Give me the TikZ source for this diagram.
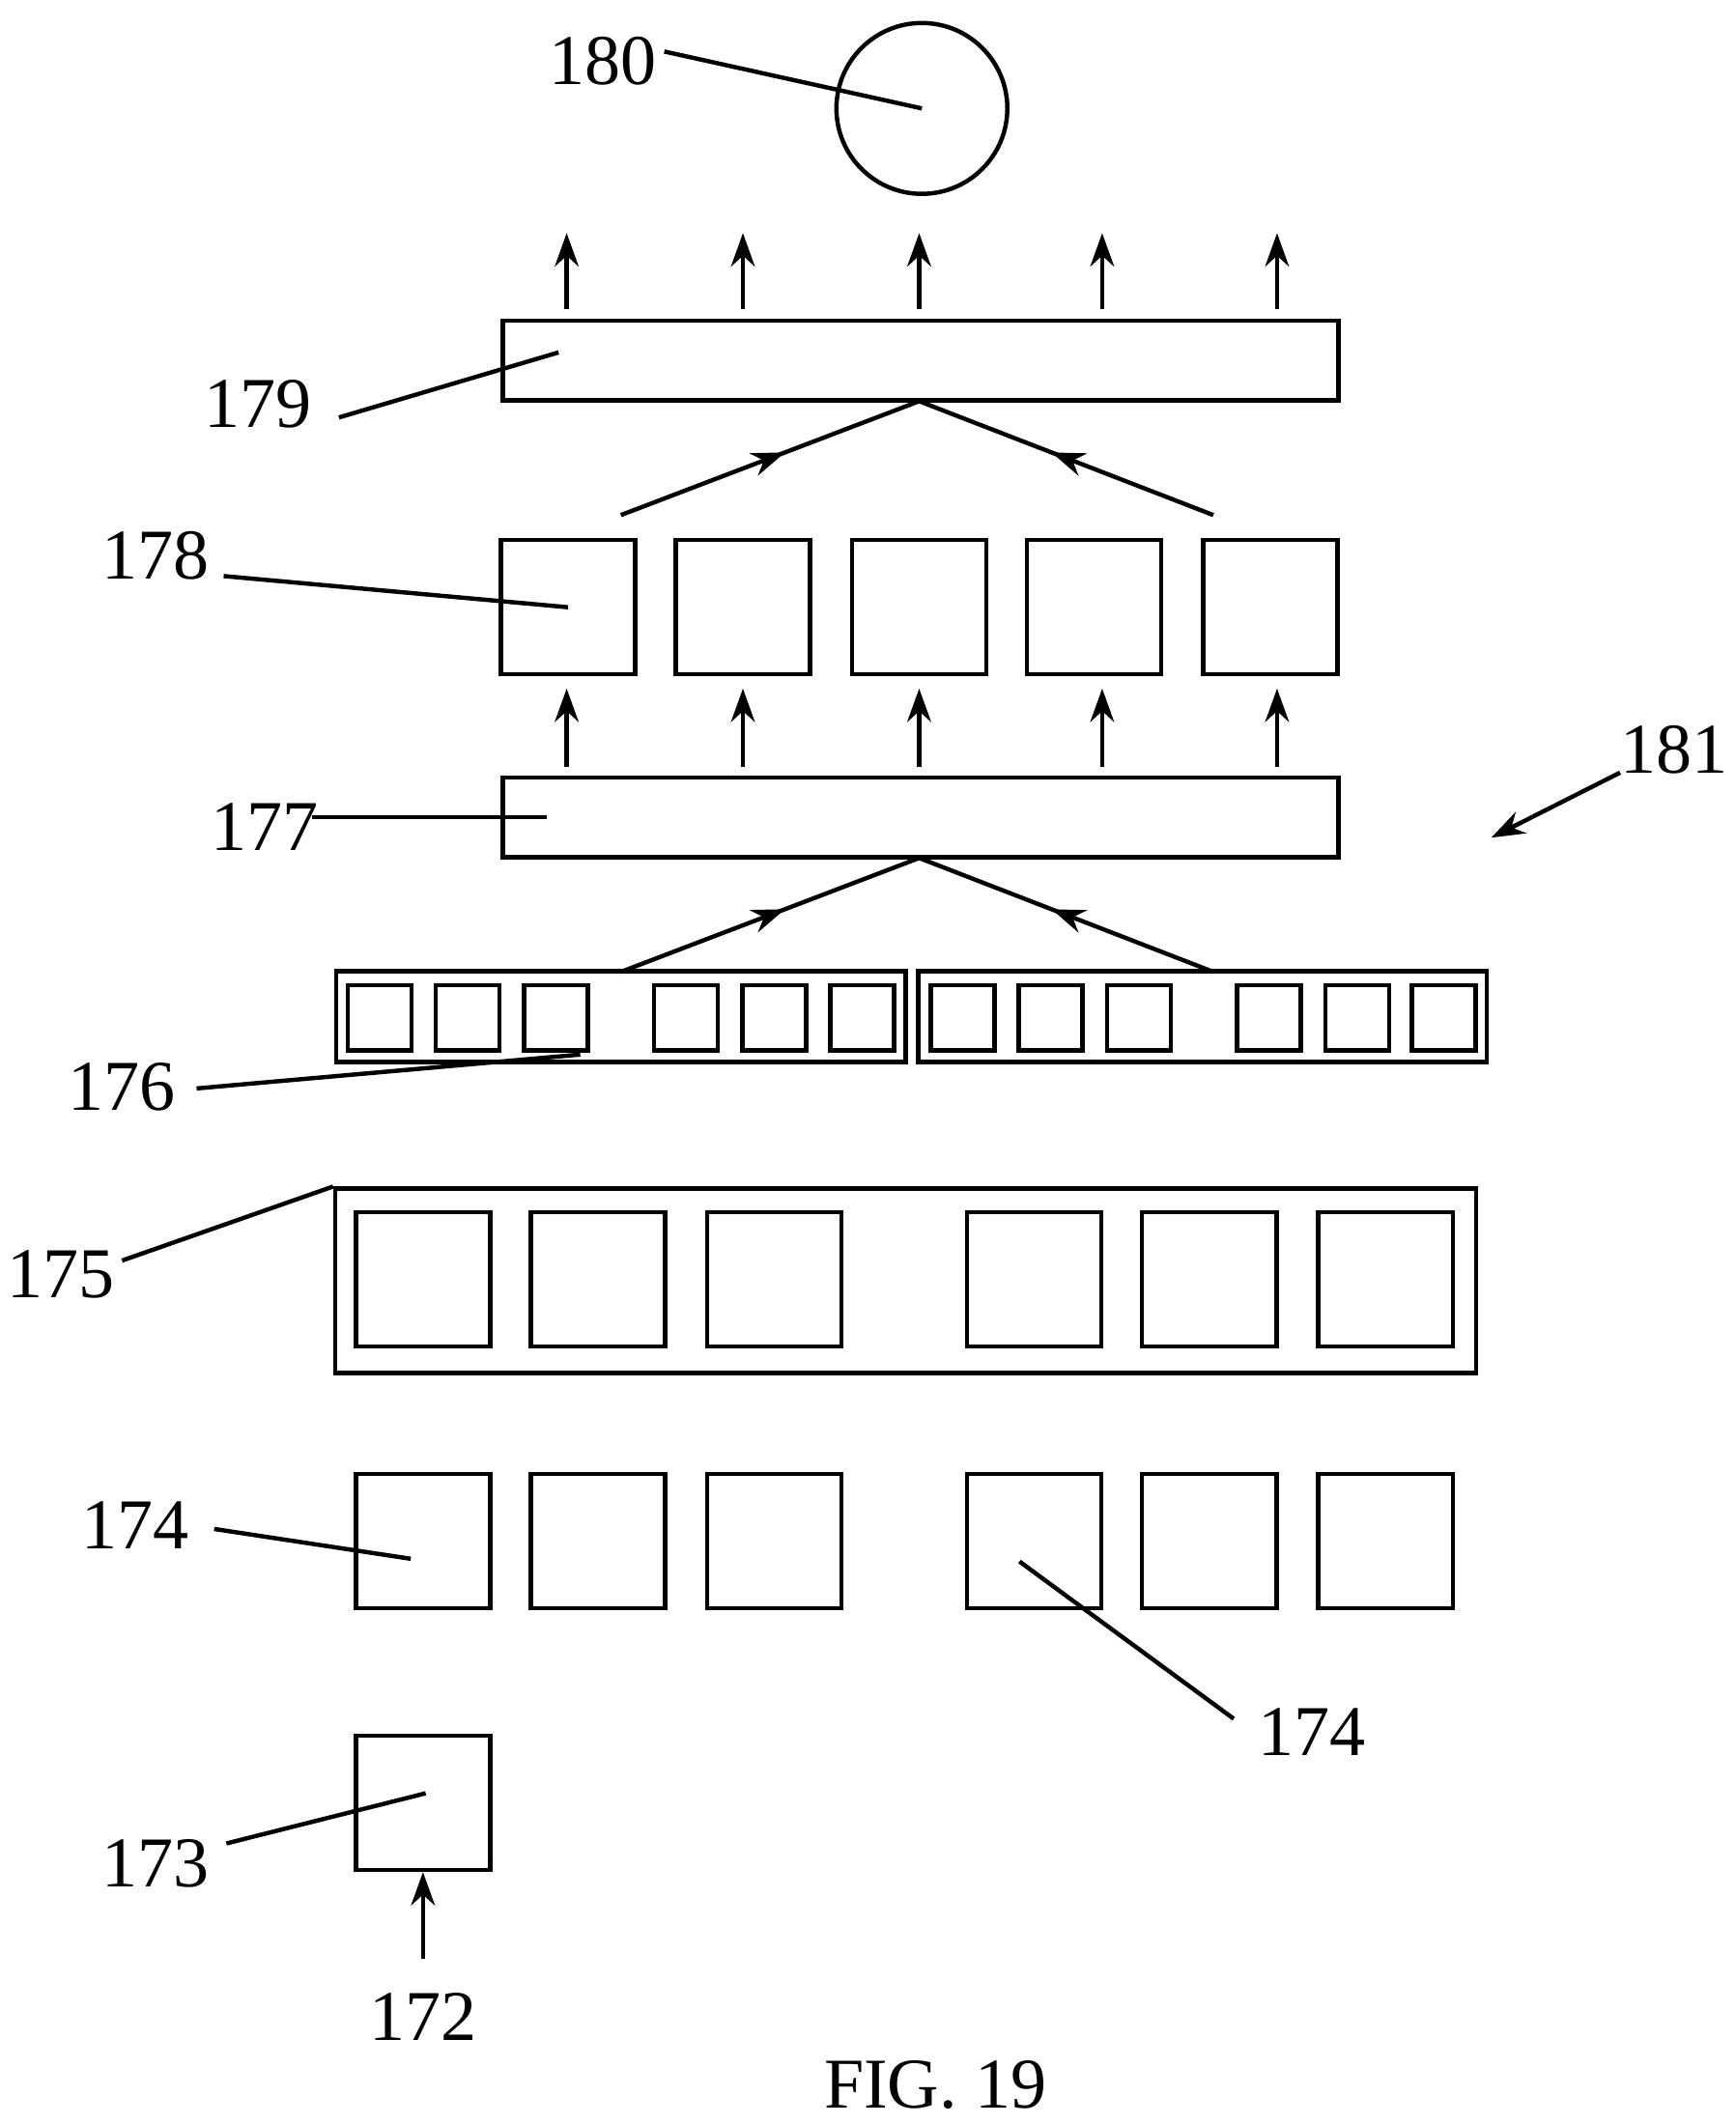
\documentclass[tikz,border=0pt]{standalone}
\usepackage{fontspec}
\setmainfont{Liberation Serif}
\usetikzlibrary{arrows.meta,positioning,calc}

\begin{document}
\begin{tikzpicture}[
    x=0.01cm, y=-0.01cm,
    line width=0.9pt,
    box/.style={rectangle, draw, inner sep=0pt, line width=0.9pt},
    sq/.style={box, minimum width=0.99cm, minimum height=0.99cm},
    tiny/.style={box, minimum width=0.47cm, minimum height=0.48cm},
    bar/.style={box, minimum width=6.16cm, minimum height=0.59cm},
    lbl/.style={font=\fontsize{15}{15}\selectfont},
    arrow/.style={-{Stealth[length=7pt,width=5pt]}}
]
\useasboundingbox (0,0) rectangle (1280,1567);

% output circle
\node[circle, draw, line width=0.9pt, minimum size=1.26cm] (out) at (680,80) {};
\node[lbl] (l180) at (445,45) {180};
\draw (490,38) -- (out.center);

% upper bar and its outputs
\node[bar] (b179) at (679,266) {};
\node[lbl] (l179) at (190,298) {179};
\draw (250,308) -- (412,260);
\foreach \x in {418,548,678,813,942}
  \draw[arrow] (\x,228) -- (\x,172);

% row of 178
\foreach \x [count=\i] in {419,548,678,807,937}
  \node[sq] (s178\i) at (\x,448) {};
\node[lbl] (l178) at (115,410) {178};
\draw (165,425) -- (s1781.center);

\coordinate (t179) at (678,296);
\coordinate (lf1) at (458,380);
\coordinate (rt1) at (895,380);
\draw[arrow] (lf1) -- ($(lf1)!0.55!(t179)$);
\draw ($(lf1)!0.5!(t179)$) -- (t179);
\draw[arrow] (rt1) -- ($(rt1)!0.55!(t179)$);
\draw ($(rt1)!0.5!(t179)$) -- (t179);

% lower bar
\node[bar] (b177) at (679,603) {};
\node[lbl] (l177) at (195,610) {177};
\draw (230,603) -- (403,603);
\foreach \x in {418,548,678,813,942}
  \draw[arrow] (\x,566) -- (\x,508);

\node[lbl] (l181) at (1235,553) {181};
\draw[arrow] (1195,570) -- (1100,618);

\coordinate (t177) at (678,633);
\coordinate (lf2) at (458,717);
\coordinate (rt2) at (895,717);
\draw[arrow] (lf2) -- ($(lf2)!0.55!(t177)$);
\draw ($(lf2)!0.5!(t177)$) -- (t177);
\draw[arrow] (rt2) -- ($(rt2)!0.55!(t177)$);
\draw ($(rt2)!0.5!(t177)$) -- (t177);

% row of 176
\node[box, minimum width=4.2cm, minimum height=0.67cm] (g176a) at (458,750) {};
\node[box, minimum width=4.19cm, minimum height=0.67cm] (g176b) at (887,750) {};
\foreach \x [count=\i] in {280,345,410,506,571,636,710,775,840,936,1001,1065}
  \node[tiny] (c176\i) at (\x,751) {};
\node[lbl] (l176) at (90,802) {176};
\draw (145,803) -- (428,778);

% 175
\node[box, minimum width=8.41cm, minimum height=1.36cm] (g175) at (668,945) {};
\foreach \x [count=\i] in {312,441,571,763,892,1022}
  \node[sq] (s175\i) at (\x,944) {};
\node[lbl] (l175) at (45,940) {175};
\draw (90,930) -- (g175.north west);

% 174
\foreach \x [count=\i] in {312,441,571,763,892,1022}
  \node[sq] (s174\i) at (\x,1137) {};
\node[lbl] (l174a) at (100,1125) {174};
\draw (158,1128) -- (303,1150);
\node[lbl] (l174b) at (968,1278) {174};
\draw (910,1268) -- (752,1152);

% input
\node[sq] (s173) at (312,1330) {};
\node[lbl] (l173) at (115,1375) {173};
\draw (167,1360) -- (314,1323);
\node[lbl] (l172) at (312,1488) {172};
\draw[arrow] (312,1445) -- (s173.south);

\node[lbl] (fig) at (690,1538) {FIG. 19};
\end{tikzpicture}
\end{document}
